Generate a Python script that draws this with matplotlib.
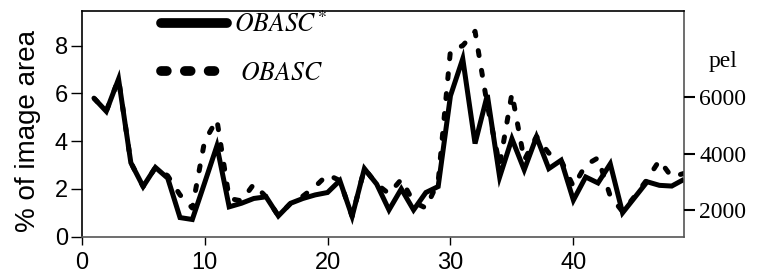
import matplotlib
matplotlib.use("Agg")
import matplotlib.pyplot as plt
from matplotlib.lines import Line2D

frames = list(range(1, 50))
obasc_star = [5.8, 5.25, 6.6, 3.1, 2.1, 2.9, 2.45, 0.8, 0.72, 2.25,
              3.8, 1.25, 1.4, 1.6, 1.67, 0.87, 1.4, 1.6, 1.75, 1.85,
              2.35, 0.85, 2.85, 2.2, 1.12, 2.0, 1.12, 1.85, 2.1, 5.9,
              7.45, 3.9, 5.93, 2.5, 4.1, 2.8, 4.18, 2.85, 3.2, 1.53,
              2.5, 2.25, 3.05, 1.0, 1.65, 2.3, 2.15, 2.12, 2.4]
obasc = [5.8, 5.25, 6.6, 3.1, 2.1, 2.9, 2.55, 1.75, 1.2, 4.0,
         4.9, 1.6, 1.5, 2.2, 1.67, 0.87, 1.4, 1.7, 2.1, 2.6,
         2.35, 0.85, 2.85, 2.2, 1.8, 2.4, 1.45, 1.2, 2.3, 7.8,
         8.0, 8.6, 5.5, 3.0, 6.0, 3.2, 4.2, 3.5, 3.2, 2.1,
         3.0, 3.3, 1.7, 1.05, 1.7, 2.4, 3.2, 2.5, 2.65]
x_ticks = [0, 10, 20, 30, 40]
y_ticks = [0, 2, 4, 6, 8]
pel_ticks = [2000, 4000, 6000]

plt.rcParams['mathtext.fontset'] = 'stix'

fig = plt.figure(figsize=(7.69, 2.78), dpi=100)
ax = fig.add_axes([0.1062, 0.1486, 0.7833, 0.8118])

ax.plot(frames, obasc, color='black', lw=3.6, dashes=(1.0, 3.0),
        dash_capstyle='round', solid_capstyle='round')
ax.plot(frames, obasc_star, color='black', lw=3.6, solid_joinstyle='miter',
        solid_capstyle='butt')

ax.set_xlim(0, 49)
ax.set_ylim(0, 9.45)
ax.set_xticks(x_ticks)
ax.set_yticks(y_ticks)
sans = 'Liberation Sans'
serif = 'Liberation Serif'
for lab in ax.get_xticklabels() + ax.get_yticklabels():
    lab.set_fontfamily(sans)
    lab.set_fontsize(17)
ax.tick_params(axis='y', direction='out', length=8, width=1, pad=2)
ax.tick_params(axis='x', direction='out', length=6, width=1, pad=5)
ax.set_ylabel('% of image area', fontfamily=sans, fontsize=20)
ax.yaxis.set_label_coords(-0.068, 0.47)

for side in ['left', 'top']:
    ax.spines[side].set_color('black')
for side in ['bottom', 'right']:
    ax.spines[side].set_color('#555555')
for s in ax.spines.values():
    s.set_linewidth(1.2)

ax2 = ax.twinx()
# pel scale: 2000 at y-pixel 210, 28.15 px per 1000
ax2.set_ylim(1050, 9070)
ax2.set_yticks(pel_ticks)
ax2.set_yticklabels([str(t) for t in pel_ticks], fontfamily=serif, fontsize=17)
ax2.tick_params(axis='y', direction='out', length=8, width=1.5, pad=3)
for s in ax2.spines.values():
    s.set_visible(False)
fig.text(0.940, 0.759, 'pel', fontfamily=serif, fontsize=17,
         ha='center', va='baseline')

h1 = Line2D([], [], color='black', lw=7, solid_capstyle='round')
h2 = Line2D([], [], color='black', lw=7,
            dashes=(0.6, 1.85, 0.6, 1.85, 0.6, 12.0),
            dash_capstyle='round')
leg = ax.legend([h1, h2], [r'$OBASC^{*}$', r'$\ OBASC$'],
                loc='upper left', bbox_to_anchor=(0.115, 1.04),
                frameon=False, fontsize=18.5, handlelength=2.55,
                handletextpad=0.3, labelspacing=0.85, borderaxespad=0)

fig.savefig('out.png', dpi=100)
